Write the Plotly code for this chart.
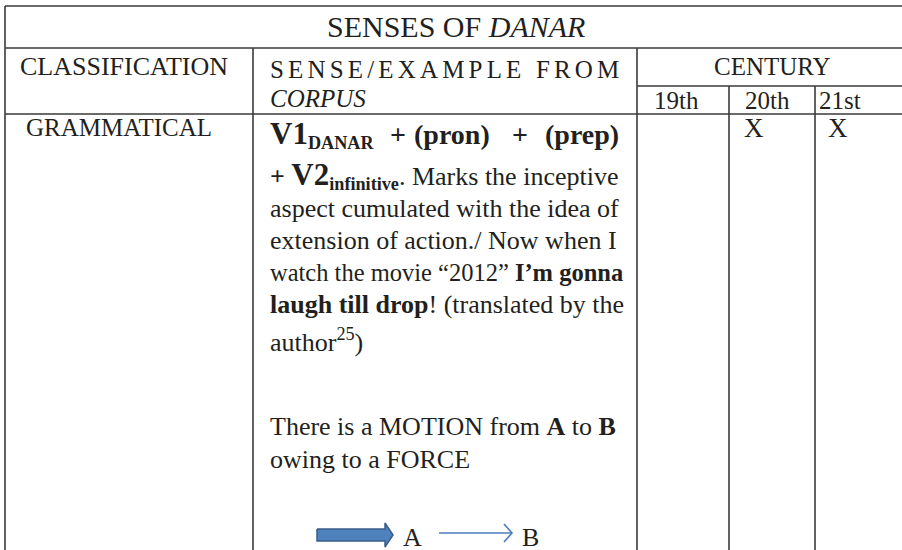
import plotly.graph_objects as go

# table text content
title = "SENSES OF <i>DANAR</i>"
col_headers = ["CLASSIFICATION", "S\u2006E\u2006N\u2006S\u2006E\u2006/\u2006E\u2006X\u2006A\u2006M\u2006P\u2006L\u2006E\u2006 \u2006F\u2006R\u2006O\u2006M",
               "<i>CORPUS</i>", "CENTURY"]
centuries = ["19th", "20th", "21st"]
classification = "GRAMMATICAL"
marks = ["", "X", "X"]
formula_parts = ["<b><span style='font-size:31px'>V1</span><sub>DANAR</sub></b>",
                 "<b>+</b>", "<b>(pron)</b>", "<b>+</b>", "<b>(prep)</b>"]
sense_lines = [
    "<b>+ <span style='font-size:31px'>V2</span><sub>infinitive</sub></b>. Marks the inceptive",
    "aspect cumulated with the idea of",
    "extension of action./ Now when I",
    "watch the movie \u201c2012\u201d <b>I\u2019m gonna</b>",
    "<b>laugh till drop</b>! (translated by the",
    "author<sup>25</sup>)",
]
motion_lines = [
    "There is a MOTION from <b>A</b> to <b>B</b>",
    "owing to a FORCE",
]
arrow_labels = ["A", "B"]

FONT = "Liberation Serif"
INK = "#231f20"
GRID = "#3a3a3a"

fig = go.Figure()

# grid
cols = [5, 253, 637, 729, 815]
rows = [6, 48, 86, 114]
bottom = 552
right = 904
gx, gy = [], []
def seg(x0, y0, x1, y1):
    gx.extend([x0, x1, None])
    gy.extend([y0, y1, None])

seg(cols[0], rows[0], right, rows[0])
seg(cols[0], rows[1], right, rows[1])
seg(cols[2], rows[2], right, rows[2])
seg(cols[0], rows[3], right, rows[3])
seg(cols[0], rows[0], cols[0], bottom)
seg(cols[1], rows[1], cols[1], bottom)
seg(cols[2], rows[1], cols[2], bottom)
seg(cols[3], rows[2], cols[3], bottom)
seg(cols[4], rows[2], cols[4], bottom)
fig.add_trace(go.Scatter(x=gx, y=gy, mode="lines", line=dict(color=GRID, width=1.6),
                         hoverinfo="skip", showlegend=False))

# thick arrow (force)
fig.add_trace(go.Scatter(
    x=[317, 385, 385, 393, 385, 385, 317, 317],
    y=[529, 529, 523, 535, 547, 541, 541, 529],
    mode="lines", fill="toself", fillcolor="#4f81bd",
    line=dict(color="#385d8a", width=1.5), hoverinfo="skip", showlegend=False))
# thin arrow (motion)
fig.add_trace(go.Scatter(
    x=[439, 512, None, 504, 512, 504],
    y=[533, 533, None, 524, 533, 542],
    mode="lines", line=dict(color="#4a7ebb", width=1.6),
    hoverinfo="skip", showlegend=False))

ann = []
def txt(x, y, s, size=26, anchor="left"):
    ann.append(dict(x=x, y=y, text=s, showarrow=False, xanchor=anchor, yanchor="middle",
                    font=dict(family=FONT, size=size, color=INK)))

txt(456, 26, title, size=30, anchor="center")
txt(18, 66, col_headers[0])
txt(268, 69, col_headers[1], size=25)
txt(268, 98, col_headers[2], size=25)
txt(772, 66, col_headers[3], size=25, anchor="center")
txt(652, 100, centuries[0], size=25)
txt(743, 100, centuries[1], size=25)
txt(817, 100, centuries[2], size=25)
txt(24, 127, classification, size=25)
for x, m in zip([683, 754, 838], marks):
    if m:
        txt(x, 128, m, size=27, anchor="center")

# first line of the sense, justified across the cell
for (x, a), s in zip([(268, "left"), (398, "center"), (412, "left"), (520, "center"), (621, "right")],
                     formula_parts):
    txt(x, 134, s, size=26 if "V1" in s else 28, anchor=a)
for y, s in zip([175, 208, 240, 272, 304, 340], sense_lines):
    txt(268, y, s, size=24.5 if "gonna" in s else 26)
for y, s in zip([426, 459], motion_lines):
    txt(268, y, s)
for x, s in zip([412, 530], arrow_labels):
    txt(x, 537, s, anchor="center")

fig.update_layout(
    width=902, height=550,
    margin=dict(l=0, r=0, t=0, b=0),
    paper_bgcolor="white", plot_bgcolor="white",
    xaxis=dict(range=[0, 902], visible=False, fixedrange=True),
    yaxis=dict(range=[550, 0], visible=False, fixedrange=True),
    annotations=ann,
    showlegend=False,
)

fig.write_html("out.html", config={"displayModeBar": False},
               post_script="document.body.style.margin='0px';")
